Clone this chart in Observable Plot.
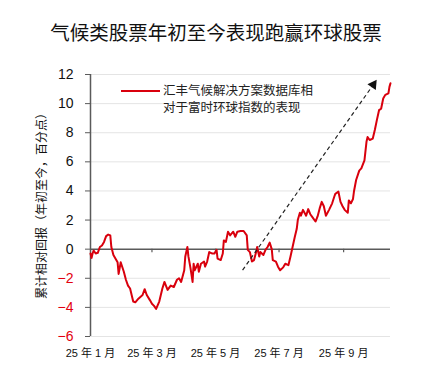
<!DOCTYPE html>
<html>
<head>
<meta charset="utf-8">
<script src="https://cdn.jsdelivr.net/npm/d3@7"></script>
<script src="https://cdn.jsdelivr.net/npm/@observablehq/plot@0.6"></script>
<style>
  body { margin: 0; background: #fff; }
  #wrap { position: relative; width: 447px; height: 368px; font-family: "Liberation Sans", "Noto Sans CJK SC", sans-serif; color: #111; }
  #title { position: absolute; left: 0; top: 21px; width: 432px; text-align: center; font-size: 19.5px; line-height: 24px; }
  #chart { position: absolute; left: 0; top: 55px; }
  #ylabel { position: absolute; left: 42px; top: 203px; transform: translate(-50%, -50%) rotate(-90deg); white-space: nowrap; font-size: 12px; line-height: 14px; color: #111; }
  #legend-line { position: absolute; left: 121px; top: 90px; width: 39px; height: 2px; background: #d9000d; }
  #legend-text { position: absolute; left: 163px; top: 82.5px; font-size: 12.5px; line-height: 17px; color: #222; }
</style>
</head>
<body>
<div id="wrap">
  <div id="title"></div>
  <div id="chart"></div>
  <div id="ylabel"></div>
  <div id="legend-line"></div>
  <div id="legend-text"></div>
</div>
<script>
const titleText = "气候类股票年初至今表现跑赢环球股票";
const yLabel = "累计相对回报（年初至今，百分点）";
const legendLines = ["汇丰气候解决方案数据库相", "对于富时环球指数的表现"];

const dates = [
  "2025-01-01","2025-01-02","2025-01-03","2025-01-04","2025-01-06","2025-01-08","2025-01-10","2025-01-12",
  "2025-01-14","2025-01-16","2025-01-18","2025-01-20","2025-01-21","2025-01-23","2025-01-27","2025-01-28",
  "2025-01-30","2025-02-02","2025-02-04","2025-02-06","2025-02-08","2025-02-11","2025-02-13","2025-02-16",
  "2025-02-20","2025-02-22","2025-02-24","2025-02-27","2025-03-01","2025-03-03","2025-03-05","2025-03-08",
  "2025-03-11","2025-03-13","2025-03-16","2025-03-19","2025-03-22","2025-03-25","2025-03-27","2025-03-29",
  "2025-04-01","2025-04-02","2025-04-04","2025-04-05","2025-04-07","2025-04-09","2025-04-10","2025-04-11",
  "2025-04-14","2025-04-15","2025-04-17","2025-04-20","2025-04-21","2025-04-23","2025-04-25","2025-04-28",
  "2025-04-30","2025-05-02","2025-05-03","2025-05-06","2025-05-08","2025-05-09","2025-05-11","2025-05-13",
  "2025-05-15","2025-05-18","2025-05-20","2025-05-22","2025-05-25","2025-05-28","2025-05-31","2025-06-01",
  "2025-06-03","2025-06-05","2025-06-07","2025-06-09","2025-06-10","2025-06-12","2025-06-13","2025-06-16",
  "2025-06-18","2025-06-20","2025-06-22","2025-06-24","2025-06-25","2025-06-28","2025-06-30","2025-07-02",
  "2025-07-05","2025-07-07","2025-07-10","2025-07-12","2025-07-14","2025-07-16","2025-07-18","2025-07-19",
  "2025-07-21","2025-07-22","2025-07-24","2025-07-27","2025-07-29","2025-07-31","2025-08-02","2025-08-05",
  "2025-08-07","2025-08-09","2025-08-11","2025-08-13","2025-08-15","2025-08-18","2025-08-21","2025-08-23",
  "2025-08-24","2025-08-27","2025-08-29","2025-08-31","2025-09-02","2025-09-05","2025-09-06","2025-09-08",
  "2025-09-10","2025-09-11","2025-09-13","2025-09-16","2025-09-18","2025-09-21","2025-09-23","2025-09-24",
  "2025-09-26","2025-09-29","2025-10-01","2025-10-03","2025-10-05","2025-10-07","2025-10-09","2025-10-11",
  "2025-10-14","2025-10-15","2025-10-16"
];
const values = [
  -0.3,-0.6,-0.3,-0.1,-0.3,-0.25,0.15,0.25,
  0.5,0.9,1.0,0.95,0.15,-0.4,-0.9,-1.7,
  -0.9,-1.55,-2.1,-2.5,-2.7,-3.6,-3.65,-3.4,
  -3.15,-2.75,-3.15,-3.5,-3.75,-3.9,-4.1,-3.6,
  -2.7,-2.25,-2.8,-2.5,-2.6,-2.1,-2.0,-2.25,
  -1.45,-0.5,0.15,-0.5,-1.3,-2.25,-1.0,-1.45,
  -1.0,-1.55,-1.0,-0.85,-1.2,-0.85,-0.2,-0.3,
  -0.3,-0.05,-0.65,-0.75,-0.3,0.6,0.5,1.2,
  0.95,1.2,0.85,1.2,1.25,1.25,0.95,-0.05,
  -0.2,-0.85,-0.75,-0.2,0.15,-0.5,-0.2,-0.4,
  -0.05,0.15,0.45,0,-0.75,-0.85,-1.2,-1.45,
  -1.25,-1.0,-1.1,-0.5,0.15,0.8,1.4,2.0,
  2.5,2.3,2.7,2.3,2.75,2.4,2.2,1.9,
  2.25,2.8,3.25,2.95,2.3,2.7,3.15,3.6,
  3.8,3.95,3.25,2.95,2.7,2.5,3.35,3.15,
  3.45,4.0,4.75,5.4,5.55,6.1,7.4,7.7,
  7.5,7.6,8.2,8.9,9.55,9.65,10.35,10.6,
  10.7,11.15,11.4
];

const xDomain = ["2025-01-01", "2025-10-16"];
const xTicks = ["2025-01-01","2025-03-01","2025-05-01","2025-07-01","2025-09-01"];
const xTickLabels = ["25 年 1 月","25 年 3 月","25 年 5 月","25 年 7 月","25 年 9 月"];
const yTicks = [-6,-4,-2,0,2,4,6,8,10,12];
const arrowDates = ["2025-05-27", "2025-09-29T12:00"];
const arrowValues = [-1.44, 11.3];

const parse = s => new Date(s.length > 10 ? s + "Z" : s);
const series = dates.map((d, i) => ({date: parse(d), value: values[i]}));
const xT = xTicks.map(parse);
const arrow = [{x1: parse(arrowDates[0]), y1: arrowValues[0], x2: parse(arrowDates[1]), y2: arrowValues[1]}];

document.getElementById("title").textContent = titleText;
document.getElementById("ylabel").textContent = yLabel;
document.getElementById("legend-text").innerHTML = legendLines.join("<br>");

const red = "#d9000d";
const chart = Plot.plot({
  width: 447,
  height: 313,
  marginLeft: 90,
  marginRight: 57,
  marginTop: 19,
  marginBottom: 32,
  style: {fontFamily: "'Liberation Sans', 'Noto Sans CJK SC', sans-serif", background: "white", overflow: "visible"},
  x: {type: "utc", domain: xDomain.map(parse)},
  y: {domain: [-6, 12]},
  marks: [
    Plot.gridY(yTicks.filter(v => v !== 0), {stroke: "#e4e4e4", strokeOpacity: 1, strokeWidth: 1}),
    Plot.ruleY([0], {stroke: "#5a5a5a", strokeWidth: 1.5}),
    Plot.ruleX(xT.slice(1), {y1: 0, y2: -0.25, stroke: "#5a5a5a", strokeWidth: 1.2}),
    Plot.ruleX([parse(xDomain[0])], {stroke: "#5a5a5a", strokeWidth: 1.5}),
    Plot.axisY(yTicks.filter(v => v >= 0), {tickSize: 5, tickPadding: 12, fontSize: 14, fill: "#111", stroke: "#5a5a5a", label: null}),
    Plot.axisY(yTicks.filter(v => v < 0), {tickSize: 5, tickPadding: 12, fontSize: 14, fill: "#e3000f", stroke: "#5a5a5a", label: null}),
    Plot.axisX(xT, {tickSize: 0, tickPadding: 13, fontSize: 11, fill: "#111", tickFormat: (d, i) => xTickLabels[i], label: null}),
    Plot.line(series, {x: "date", y: "value", stroke: red, strokeWidth: 2}),
    Plot.link(arrow, {x1: "x1", y1: "y1", x2: "x2", y2: "y2", stroke: "#222", strokeWidth: 1.2, strokeDasharray: "4,3"}),
    Plot.dot(arrow, {x: "x2", y: "y2", symbol: "triangle", r: 3.8, fill: "#111", stroke: "none", rotate: 35})
  ]
});
document.getElementById("chart").appendChild(chart);
</script>
</body>
</html>
